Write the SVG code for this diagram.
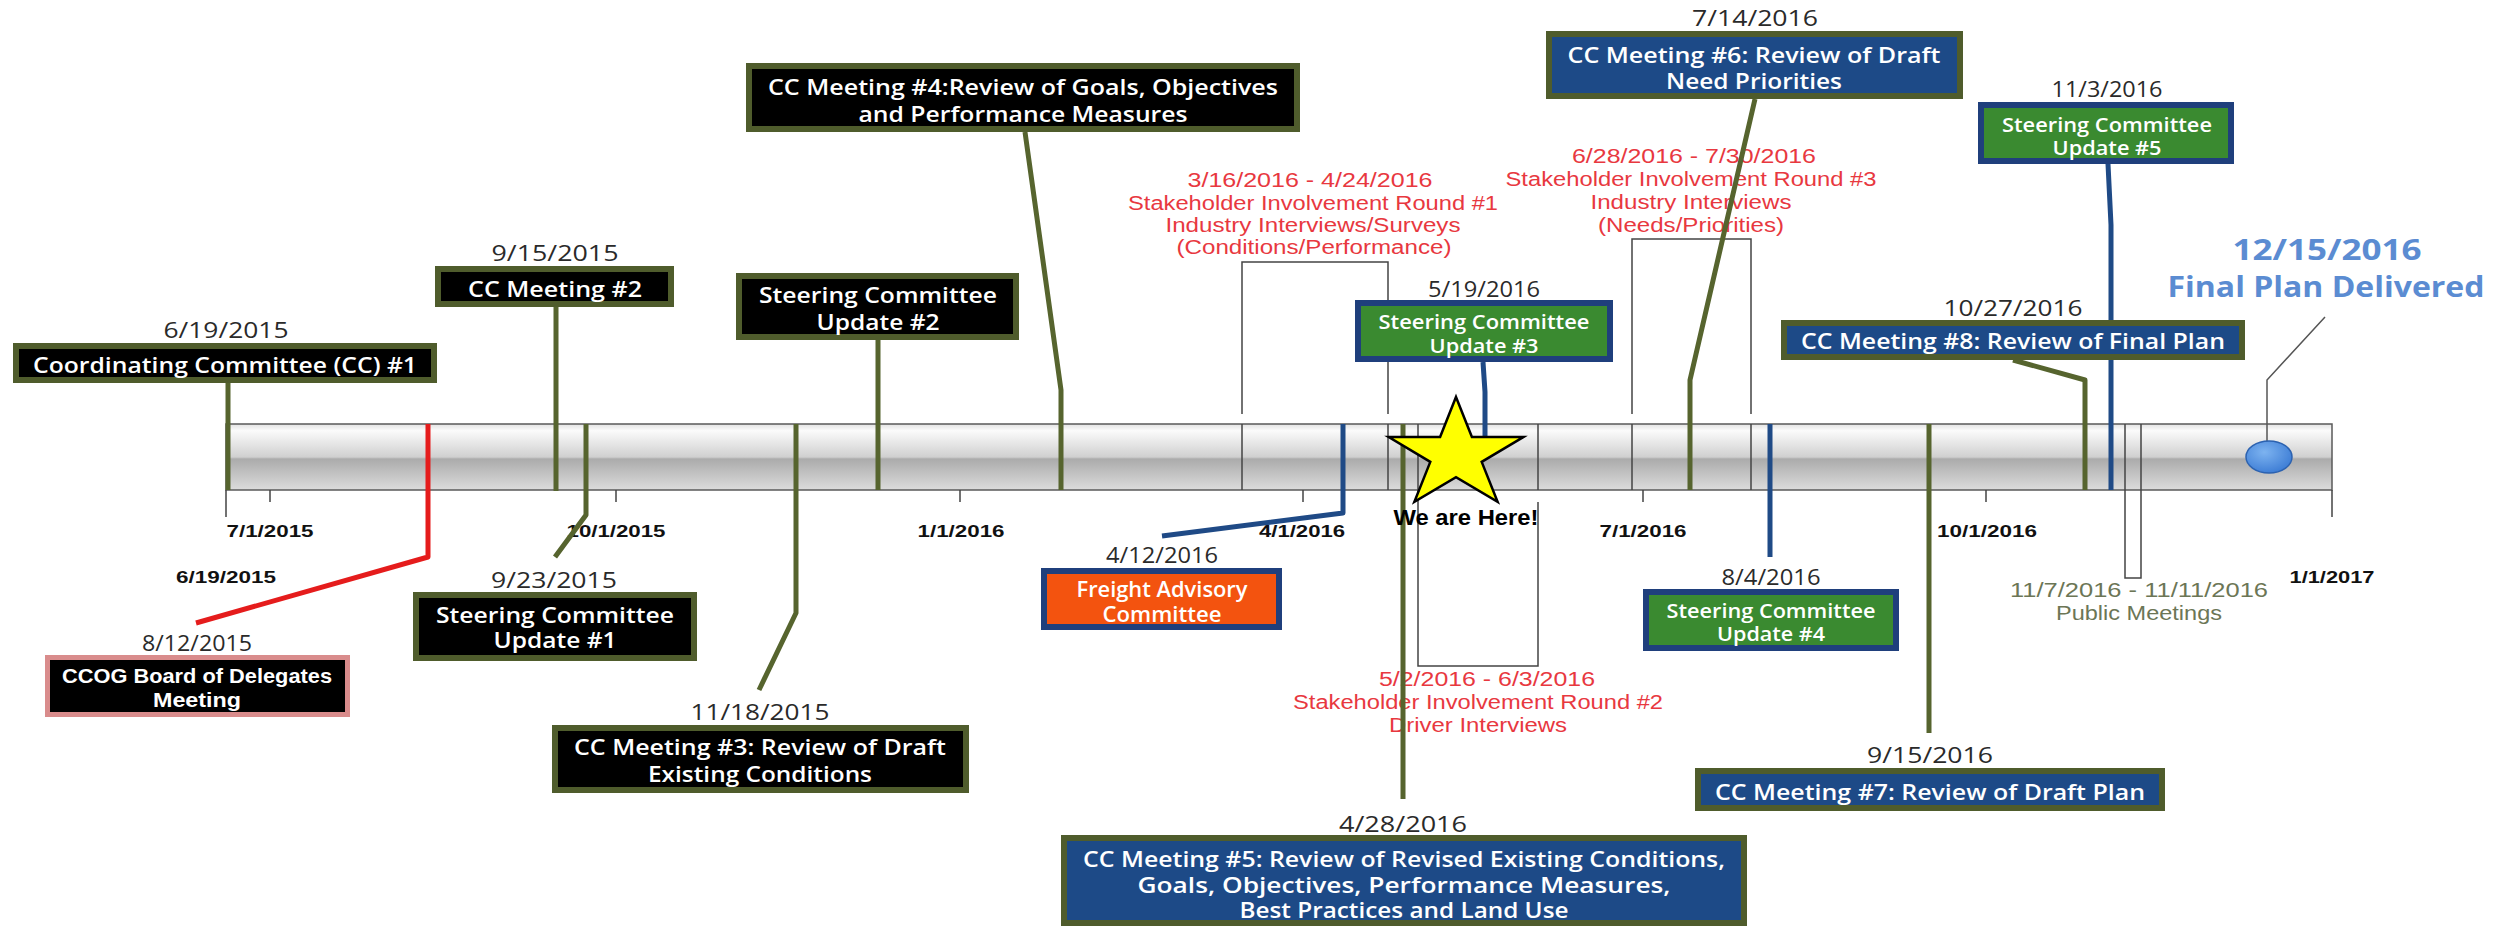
<svg xmlns="http://www.w3.org/2000/svg" width="2499" height="927" viewBox="0 0 2499 927">
<defs>
  <linearGradient id="barFill" x1="0" y1="0" x2="0" y2="1">
    <stop offset="0" stop-color="#e2e2e2"/>
    <stop offset="0.1" stop-color="#fbfbfb"/>
    <stop offset="0.5" stop-color="#d0d0d0"/>
    <stop offset="0.53" stop-color="#ababab"/>
    <stop offset="1" stop-color="#dcdcdc"/>
  </linearGradient>
  <radialGradient id="dotFill" cx="0.4" cy="0.35" r="0.7">
    <stop offset="0" stop-color="#7db3f0"/>
    <stop offset="1" stop-color="#3b7bd4"/>
  </radialGradient>
</defs>
<style>
  .bar{fill:url(#barFill);stroke:#5a5a5a;stroke-width:1.5}
  .thin{fill:none;stroke:#444;stroke-width:1.5}
  .lead{fill:none;stroke-width:5;stroke-linejoin:round}
  .olive{stroke:#56642e}
  .navy{stroke:#1f4a86}
  .red{stroke:#e51c1c}
  .ptr{fill:none;stroke:#555;stroke-width:1.5}
  .box-k{fill:#000;stroke:#4f5c2c;stroke-width:6}
  .box-b{fill:#1d4a87;stroke:#4f5c2c;stroke-width:6}
  .box-g{fill:#3a8a30;stroke:#1f3f7c;stroke-width:6}
  .box-o{fill:#f3530f;stroke:#1f3f7c;stroke-width:6}
  .box-p{fill:#000;stroke:#d98c8c;stroke-width:5}
  .star{fill:#ffff00;stroke:#000;stroke-width:2.5;stroke-linejoin:miter}
  .dot{fill:url(#dotFill);stroke:#2c62b0;stroke-width:1.5}
  text{font-family:"Open Sans","Liberation Sans",sans-serif;text-anchor:middle}
  .t{font-size:21px;font-weight:600;fill:#fff}
  .ts{font-size:20px;font-weight:600;fill:#fff}
  .tn{font-family:"Liberation Sans",Arial,sans-serif;font-size:21px;font-weight:bold;fill:#fff}
  .d{font-size:21px;fill:#2a2a2a}
  .r{font-family:"Liberation Sans",Arial,sans-serif;font-size:20px;fill:#e8383f}
  .pm{font-family:"Liberation Sans",Arial,sans-serif;font-size:20px;fill:#6c7656}
  .tk{font-family:"Liberation Sans",Arial,sans-serif;font-size:16px;font-weight:bold;fill:#111}
  .fp{font-size:29px;font-weight:bold;fill:#5b8cd2}
  .here{font-family:"Liberation Sans",Arial,sans-serif;font-size:22px;font-weight:bold;fill:#000}
</style>

<rect x="0" y="0" width="2499" height="927" fill="#fff"/>

<!-- timeline bar -->
<g id="timeline">
  <rect class="bar" x="226" y="424" width="2106" height="66"/>
  <path class="thin" d="M226,490 V517 M2332,490 V517 M270,490 V502 M616,490 V502 M960,490 V502 M1303,490 V502 M1643,490 V502 M1986,490 V502"/>
  <text class="tk" x="226" y="583" textLength="100" lengthAdjust="spacingAndGlyphs">6/19/2015</text>
  <text class="tk" x="270" y="537" textLength="87" lengthAdjust="spacingAndGlyphs">7/1/2015</text>
  <text class="tk" x="616" y="537" textLength="99" lengthAdjust="spacingAndGlyphs">10/1/2015</text>
  <text class="tk" x="961" y="537" textLength="87" lengthAdjust="spacingAndGlyphs">1/1/2016</text>
  <text class="tk" x="1302" y="537" textLength="86" lengthAdjust="spacingAndGlyphs">4/1/2016</text>
  <text class="tk" x="1643" y="537" textLength="87" lengthAdjust="spacingAndGlyphs">7/1/2016</text>
  <text class="tk" x="1987" y="537" textLength="100" lengthAdjust="spacingAndGlyphs">10/1/2016</text>
  <text class="tk" x="2332" y="583" textLength="85" lengthAdjust="spacingAndGlyphs">1/1/2017</text>
</g>

<!-- date ranges: brackets and range boxes -->
<g id="ranges">
  <path class="thin" d="M1242,414 V262 H1388 V414 M1242,424 V490 M1388,424 V490"/>
  <path class="thin" d="M1418,424 V490 M1538,424 V490 M1418,490 V666 H1538 V502"/>
  <path class="thin" d="M1632,414 V239 H1751 V414 M1632,424 V490 M1751,424 V490"/>
  <path class="thin" d="M2125,424 V578 H2141 V424"/>
</g>

<g id="range-round1">
  <text class="r" x="1310" y="187" textLength="245" lengthAdjust="spacingAndGlyphs">3/16/2016 - 4/24/2016</text>
  <text class="r" x="1313" y="210" textLength="370" lengthAdjust="spacingAndGlyphs">Stakeholder Involvement Round #1</text>
  <text class="r" x="1313" y="232" textLength="295" lengthAdjust="spacingAndGlyphs">Industry Interviews/Surveys</text>
  <text class="r" x="1314" y="254" textLength="275" lengthAdjust="spacingAndGlyphs">(Conditions/Performance)</text>
</g>
<g id="range-round2">
  <text class="r" x="1487" y="686" textLength="216" lengthAdjust="spacingAndGlyphs">5/2/2016 - 6/3/2016</text>
  <text class="r" x="1478" y="709" textLength="370" lengthAdjust="spacingAndGlyphs">Stakeholder Involvement Round #2</text>
  <text class="r" x="1478" y="732" textLength="178" lengthAdjust="spacingAndGlyphs">Driver Interviews</text>
</g>
<g id="range-round3">
  <text class="r" x="1694" y="163" textLength="244" lengthAdjust="spacingAndGlyphs">6/28/2016 - 7/30/2016</text>
  <text class="r" x="1691" y="186" textLength="371" lengthAdjust="spacingAndGlyphs">Stakeholder Involvement Round #3</text>
  <text class="r" x="1691" y="209" textLength="201" lengthAdjust="spacingAndGlyphs">Industry Interviews</text>
  <text class="r" x="1691" y="232" textLength="186" lengthAdjust="spacingAndGlyphs">(Needs/Priorities)</text>
</g>
<g id="range-public">
  <text class="pm" x="2139" y="597" textLength="258" lengthAdjust="spacingAndGlyphs">11/7/2016 - 11/11/2016</text>
  <text class="pm" x="2139" y="620" textLength="166" lengthAdjust="spacingAndGlyphs">Public Meetings</text>
</g>

<!-- connectors from event boxes to the bar -->
<g id="connectors">
  <path class="lead olive" d="M228,383 V490"/>
  <path class="lead olive" d="M556,307 V491"/>
  <path class="lead olive" d="M586,424 V515 L555,557"/>
  <path class="lead olive" d="M878,340 V490"/>
  <path class="lead olive" d="M1025,132 L1061,390 V490"/>
  <path class="lead olive" d="M796,424 V613 L759,690"/>
  <path class="lead olive" d="M1403,424 V799"/>
  <path class="lead olive" d="M1755,99 L1690,380 V490"/>
  <path class="lead olive" d="M1929,424 V733"/>
  <path class="lead olive" d="M2013,360 L2085,380 V490"/>
  <path class="lead navy" d="M1343,424 V513 L1162,536"/>
  <path class="lead navy" d="M1483,362 L1485,392 V440"/>
  <path class="lead navy" d="M1770,424 V557"/>
  <path class="lead navy" d="M2108,164 L2111,225 V490"/>
  <path class="lead red" d="M428,424 V557 L196,623"/>
  <path class="ptr" d="M2325,317 L2267,380 V442"/>
</g>

<!-- event nodes -->
<g id="cc1">
  <text class="d" x="226" y="338" textLength="125" lengthAdjust="spacingAndGlyphs">6/19/2015</text>
  <rect class="box-k" x="16" y="346" width="418" height="34"/>
  <text class="t" x="225" y="373" textLength="384" lengthAdjust="spacingAndGlyphs">Coordinating Committee (CC) #1</text>
</g>
<g id="cc2">
  <text class="d" x="555" y="261" textLength="127" lengthAdjust="spacingAndGlyphs">9/15/2015</text>
  <rect class="box-k" x="438" y="269" width="233" height="35"/>
  <text class="t" x="555" y="297" textLength="174" lengthAdjust="spacingAndGlyphs">CC Meeting #2</text>
</g>
<g id="sc1">
  <text class="d" x="554" y="588" textLength="126" lengthAdjust="spacingAndGlyphs">9/23/2015</text>
  <rect class="box-k" x="416" y="595" width="278" height="63"/>
  <text class="t" x="555" y="623" textLength="238" lengthAdjust="spacingAndGlyphs">Steering Committee</text>
  <text class="t" x="555" y="648" textLength="123" lengthAdjust="spacingAndGlyphs">Update #1</text>
</g>
<g id="ccog">
  <text class="d" x="197" y="651" textLength="110" lengthAdjust="spacingAndGlyphs">8/12/2015</text>
  <rect class="box-p" x="47.5" y="657.5" width="300" height="57"/>
  <text class="tn" x="197" y="683" textLength="270" lengthAdjust="spacingAndGlyphs">CCOG Board of Delegates</text>
  <text class="tn" x="197" y="707" textLength="88" lengthAdjust="spacingAndGlyphs">Meeting</text>
</g>
<g id="cc3">
  <text class="d" x="760" y="720" textLength="139" lengthAdjust="spacingAndGlyphs">11/18/2015</text>
  <rect class="box-k" x="555" y="728" width="411" height="62"/>
  <text class="t" x="760" y="755" textLength="372" lengthAdjust="spacingAndGlyphs">CC Meeting #3: Review of Draft</text>
  <text class="t" x="760" y="782" textLength="224" lengthAdjust="spacingAndGlyphs">Existing Conditions</text>
</g>
<g id="sc2">
  <rect class="box-k" x="739" y="276" width="277" height="61"/>
  <text class="t" x="878" y="303" textLength="238" lengthAdjust="spacingAndGlyphs">Steering Committee</text>
  <text class="t" x="878" y="330" textLength="123" lengthAdjust="spacingAndGlyphs">Update #2</text>
</g>
<g id="cc4">
  <rect class="box-k" x="749" y="66" width="548" height="63"/>
  <text class="t" x="1023" y="95" textLength="510" lengthAdjust="spacingAndGlyphs">CC Meeting #4:Review of Goals, Objectives</text>
  <text class="t" x="1023" y="122" textLength="329" lengthAdjust="spacingAndGlyphs">and Performance Measures</text>
</g>
<g id="fac">
  <text class="d" x="1162" y="563" textLength="112" lengthAdjust="spacingAndGlyphs">4/12/2016</text>
  <rect class="box-o" x="1044" y="571" width="235" height="56"/>
  <text class="t" x="1162" y="597" textLength="171" lengthAdjust="spacingAndGlyphs">Freight Advisory</text>
  <text class="t" x="1162" y="622" textLength="119" lengthAdjust="spacingAndGlyphs">Committee</text>
</g>
<g id="cc5">
  <text class="d" x="1403" y="832" textLength="128" lengthAdjust="spacingAndGlyphs">4/28/2016</text>
  <rect class="box-b" x="1064" y="838" width="680" height="85"/>
  <text class="t" x="1404" y="867" textLength="642" lengthAdjust="spacingAndGlyphs">CC Meeting #5: Review of Revised Existing Conditions,</text>
  <text class="t" x="1404" y="893" textLength="533" lengthAdjust="spacingAndGlyphs">Goals, Objectives, Performance Measures,</text>
  <text class="t" x="1404" y="918" textLength="329" lengthAdjust="spacingAndGlyphs">Best Practices and Land Use</text>
</g>
<g id="sc3">
  <text class="d" x="1484" y="297" textLength="112" lengthAdjust="spacingAndGlyphs">5/19/2016</text>
  <rect class="box-g" x="1358" y="303" width="252" height="56"/>
  <text class="ts" x="1484" y="329" textLength="211" lengthAdjust="spacingAndGlyphs">Steering Committee</text>
  <text class="ts" x="1484" y="353" textLength="109" lengthAdjust="spacingAndGlyphs">Update #3</text>
</g>
<g id="cc6">
  <text class="d" x="1755" y="26" textLength="126" lengthAdjust="spacingAndGlyphs">7/14/2016</text>
  <rect class="box-b" x="1549" y="34" width="411" height="62"/>
  <text class="t" x="1754" y="63" textLength="373" lengthAdjust="spacingAndGlyphs">CC Meeting #6: Review of Draft</text>
  <text class="t" x="1754" y="89" textLength="176" lengthAdjust="spacingAndGlyphs">Need Priorities</text>
</g>
<g id="sc4">
  <text class="d" x="1771" y="585" textLength="99" lengthAdjust="spacingAndGlyphs">8/4/2016</text>
  <rect class="box-g" x="1646" y="592" width="250" height="56"/>
  <text class="ts" x="1771" y="618" textLength="209" lengthAdjust="spacingAndGlyphs">Steering Committee</text>
  <text class="ts" x="1771" y="641" textLength="108" lengthAdjust="spacingAndGlyphs">Update #4</text>
</g>
<g id="cc7">
  <text class="d" x="1930" y="763" textLength="126" lengthAdjust="spacingAndGlyphs">9/15/2016</text>
  <rect class="box-b" x="1698" y="771" width="464" height="37"/>
  <text class="t" x="1930" y="800" textLength="430" lengthAdjust="spacingAndGlyphs">CC Meeting #7: Review of Draft Plan</text>
</g>
<g id="cc8">
  <text class="d" x="2013" y="316" textLength="139" lengthAdjust="spacingAndGlyphs">10/27/2016</text>
  <rect class="box-b" x="1784" y="323" width="458" height="34"/>
  <text class="t" x="2013" y="349" textLength="424" lengthAdjust="spacingAndGlyphs">CC Meeting #8: Review of Final Plan</text>
</g>
<g id="sc5">
  <text class="d" x="2107" y="97" textLength="111" lengthAdjust="spacingAndGlyphs">11/3/2016</text>
  <rect class="box-g" x="1981" y="105" width="250" height="56"/>
  <text class="ts" x="2107" y="132" textLength="210" lengthAdjust="spacingAndGlyphs">Steering Committee</text>
  <text class="ts" x="2107" y="155" textLength="109" lengthAdjust="spacingAndGlyphs">Update #5</text>
</g>
<g id="final-plan">
  <text class="fp" x="2327" y="260" textLength="189" lengthAdjust="spacingAndGlyphs">12/15/2016</text>
  <text class="fp" x="2326" y="297" textLength="317" lengthAdjust="spacingAndGlyphs">Final Plan Delivered</text>
  <ellipse class="dot" cx="2269" cy="457" rx="23" ry="16"/>
</g>

<!-- current position marker -->
<g id="we-are-here">
  <polygon class="star" points="1456,397 1471.9,437 1523.3,437.1 1481.7,461.9 1497.6,501.9 1456,477.2 1414.4,501.9 1430.3,461.9 1388.7,437.1 1440.1,437"/>
  <text class="here" x="1466" y="525" textLength="145" lengthAdjust="spacingAndGlyphs">We are Here!</text>
</g>
</svg>
